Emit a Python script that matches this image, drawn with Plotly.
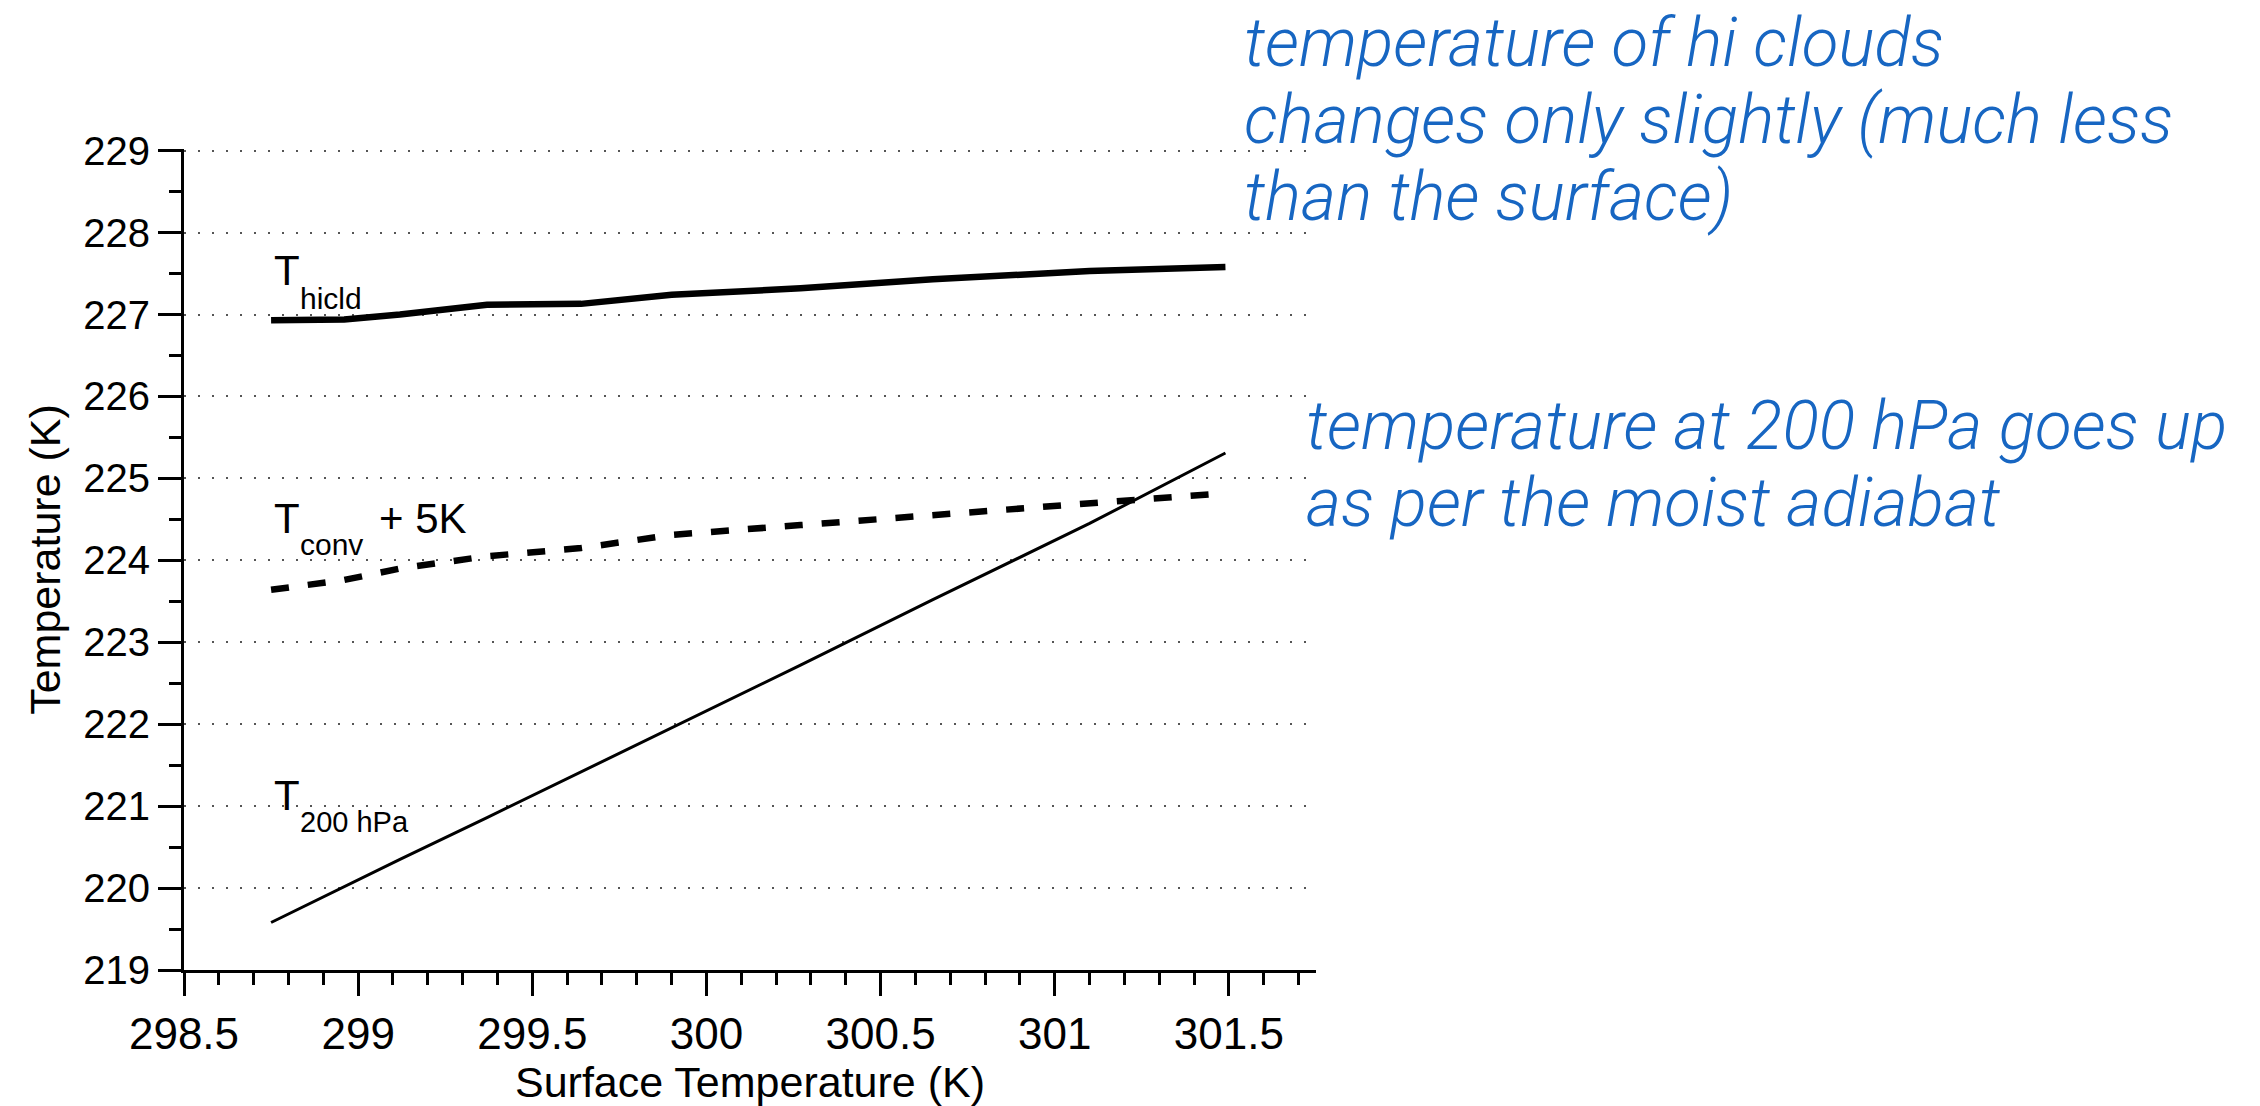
import plotly.graph_objects as go

# Surface temperature of each run (K)
surface_temp = [298.75, 298.96, 299.12, 299.37, 299.64, 299.90, 300.27, 300.65, 301.10, 301.49]

# High-cloud temperature (K)
t_hicld = [226.93, 226.94, 227.00, 227.12, 227.13, 227.24, 227.32, 227.43, 227.53, 227.58]

# Convective-top temperature shifted by +5 K (K)
t_conv_plus5 = [223.64, 223.76, 223.90, 224.05, 224.15, 224.31, 224.43, 224.55, 224.68, 224.82]

# Temperature at 200 hPa (K)
t_200hpa = [219.58, 220.02, 220.35, 220.86, 221.42, 221.95, 222.72, 223.52, 224.45, 225.31]

# small headroom above 229 so its dotted grid line is drawn
x_range = [298.5, 301.75]
y_range = [219, 229.02]

W, H = 2260, 1106
L, R, T, B = 184, 944, 149, 129
plot_w = W - L - R
plot_h = H - T - B

FONT = "Liberation Sans, Arial, Helvetica, sans-serif"
NOTE_FONT = "Roboto, Liberation Sans, Arial, sans-serif"
BLUE = "#1766c2"


def px_to_paper(px, py):
    return (px - L) / plot_w, (H - B - py) / plot_h


fig = go.Figure()

fig.add_trace(go.Scatter(x=surface_temp, y=t_hicld, mode="lines",
                         line=dict(color="black", width=6.5), showlegend=False))
fig.add_trace(go.Scatter(x=surface_temp, y=t_conv_plus5, mode="lines",
                         line=dict(color="black", width=6.5, dash="18px,19px"),
                         showlegend=False))
fig.add_trace(go.Scatter(x=surface_temp, y=t_200hpa, mode="lines",
                         line=dict(color="black", width=3), showlegend=False))

annotations = []

# Curve labels: main letter plus subscript
def label(x, y, text, size):
    annotations.append(dict(x=x, y=y, xref="x", yref="y", text=text, showarrow=False,
                            xanchor="left", yanchor="middle",
                            font=dict(family=FONT, size=size, color="black")))

label(298.752, 227.534, "T", 42)
label(298.827, 227.196, "hicld", 30)
label(298.752, 224.507, "T", 42)
label(298.827, 224.194, "conv", 30)
label(299.055, 224.507, "+ 5K", 42)
label(298.752, 221.125, "T", 42)
label(298.827, 220.804, "200 hPa", 29)

# Blue commentary lines
notes = [
    (1242, 42.0, "temperature of hi clouds"),
    (1242, 119.5, "changes only slightly (much less"),
    (1242, 197.0, "than the surface)"),
    (1304, 428.0, "temperature at 200 hPa goes up"),
    (1304, 505.5, "as per the moist adiabat"),
]
for px, py, txt in notes:
    xp, yp = px_to_paper(px, py)
    annotations.append(dict(x=xp, y=yp, xref="paper", yref="paper", text=txt,
                            showarrow=False, xanchor="left", yanchor="middle",
                            font=dict(family=NOTE_FONT, size=67.5, color=BLUE,
                                      style="italic", weight=300)))

fig.update_layout(
    width=W, height=H,
    margin=dict(l=L, r=R, t=T, b=B, pad=0),
    paper_bgcolor="white", plot_bgcolor="white",
    annotations=annotations,
    font=dict(family=FONT, color="black"),
)

fig.update_xaxes(
    range=x_range, dtick=0.5, tick0=298.5,
    showline=True, linecolor="black", linewidth=3,
    ticks="outside", ticklen=23, tickwidth=3, tickcolor="black",
    minor=dict(dtick=0.1, ticks="outside", ticklen=12, tickwidth=3, tickcolor="black", showgrid=False),
    showgrid=False, zeroline=False,
    tickfont=dict(family=FONT, size=44, color="black"),
    title=dict(text="Surface Temperature (K)", font=dict(family=FONT, size=43, color="black"), standoff=6),
)

fig.update_yaxes(
    range=y_range, dtick=1, tick0=219,
    showline=True, linecolor="black", linewidth=3,
    ticks="outside", ticklen=23, tickwidth=3, tickcolor="black",
    minor=dict(dtick=0.5, ticks="outside", ticklen=12, tickwidth=3, tickcolor="black", showgrid=False),
    showgrid=True, gridcolor="#555555", gridwidth=2, griddash="2px,12px",
    zeroline=False,
    tickfont=dict(family=FONT, size=40, color="black"),
    title=dict(text="Temperature (K)", font=dict(family=FONT, size=43, color="black"), standoff=10),
)

fig.write_html("out.html")
